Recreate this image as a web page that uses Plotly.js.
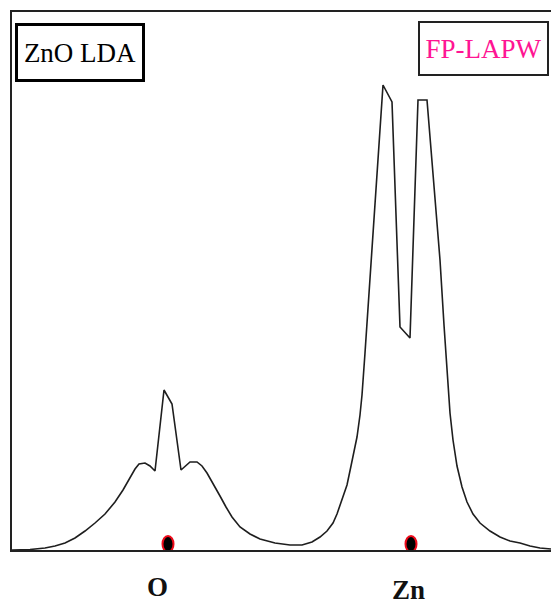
<!DOCTYPE html>
<html>
<head>
<meta charset="utf-8">
<script src="https://cdn.plot.ly/plotly-3.0.1.min.js"></script>
<style>
  html, body { margin: 0; padding: 0; background: #fff; }
  #chart { width: 551px; height: 605px; }
</style>
</head>
<body>
<div id="chart"></div>
<script>
// Valence charge density along the O–Zn line (arbitrary units)
const position = [0, 18, 33, 43, 53, 63, 73, 83, 93, 103, 111, 118, 123, 127, 133, 138, 143,
  152, 160, 169, 178, 185,
  190, 195, 201, 208, 214, 220, 228, 238, 248, 263, 278, 290, 300, 308, 315, 321, 325,
  330, 335, 339, 342, 345, 348, 350, 353,
  371, 380, 388, 398, 406, 415, 428, 432, 435, 438, 441, 445, 450, 455, 461, 468, 478,
  488, 498, 508, 518, 528, 539];
const density = [0, 0.5, 2, 4, 7, 12, 19, 27, 36, 48, 60, 73, 81, 86, 87, 84, 79,
  160, 146, 80, 88, 88,
  84, 77, 67, 54, 43, 33, 23, 16, 11, 7, 5, 5, 8, 13, 19, 27, 36,
  50, 65, 84, 98, 113, 135, 155, 197,
  465, 448, 223, 212, 450, 450, 290, 225, 175, 137, 110, 84, 63, 48, 36, 27, 19,
  13, 9, 7, 4, 2, 1];

// Atomic sites on the line
const atomNames = ['O', 'Zn'];
const atomPos = [156, 399];
const labelShift = [[-11, -37], [-3, -40]];

const serif = 'Liberation Serif';

const traces = [{
  x: position,
  y: density,
  type: 'scatter',
  mode: 'lines',
  line: { color: '#1e1e1e', width: 1.6 },
  hoverinfo: 'skip',
  showlegend: false
}];

// Atom markers: small black ellipses with a red rim, sitting on the baseline
const shapes = atomPos.map(p => ({
  type: 'circle',
  xref: 'x', yref: 'y',
  xsizemode: 'pixel', ysizemode: 'pixel',
  xanchor: p, yanchor: 0,
  x0: -5.5, x1: 5.5, y0: -2, y1: 14,
  fillcolor: '#000',
  line: { color: '#ee0a1a', width: 2 },
  layer: 'above'
}));

const annotations = atomNames.map((n, i) => ({
  text: n,
  x: atomPos[i], xref: 'x',
  y: 0, yref: 'paper',
  xshift: labelShift[i][0], yshift: labelShift[i][1],
  xanchor: 'center', yanchor: 'middle',
  showarrow: false,
  font: { family: serif, size: 27, color: '#111', weight: 'bold' }
}));

annotations.push({
  text: 'ZnO LDA',
  xref: 'paper', yref: 'paper',
  x: 0.0056, y: 0.98,
  xanchor: 'left', yanchor: 'top',
  showarrow: false,
  width: 124, height: 53,
  borderwidth: 3, bordercolor: '#000', borderpad: 0,
  bgcolor: '#fff',
  font: { family: serif, size: 27, color: '#000' }
});

annotations.push({
  text: 'FP-LAPW',
  xref: 'paper', yref: 'paper',
  x: 0.9963, y: 0.9833,
  xanchor: 'right', yanchor: 'top',
  showarrow: false,
  width: 127, height: 51,
  borderwidth: 2, bordercolor: '#222', borderpad: 0,
  bgcolor: '#fff',
  font: { family: serif, size: 27, color: '#ff1493' }
});

const layout = {
  width: 551, height: 605,
  margin: { l: 12, r: 0, t: 12, b: 55 },
  paper_bgcolor: '#fff',
  plot_bgcolor: '#fff',
  xaxis: {
    range: [0, 539],
    showline: true, mirror: true, linecolor: '#222', linewidth: 2,
    showgrid: false, zeroline: false, ticks: '', showticklabels: false
  },
  yaxis: {
    range: [0, 538],
    showline: true, linecolor: '#222', linewidth: 2,
    showgrid: false, zeroline: false, ticks: '', showticklabels: false
  },
  shapes: shapes,
  annotations: annotations,
  showlegend: false
};

Plotly.newPlot('chart', traces, layout, { displayModeBar: false, staticPlot: true });
</script>
</body>
</html>
